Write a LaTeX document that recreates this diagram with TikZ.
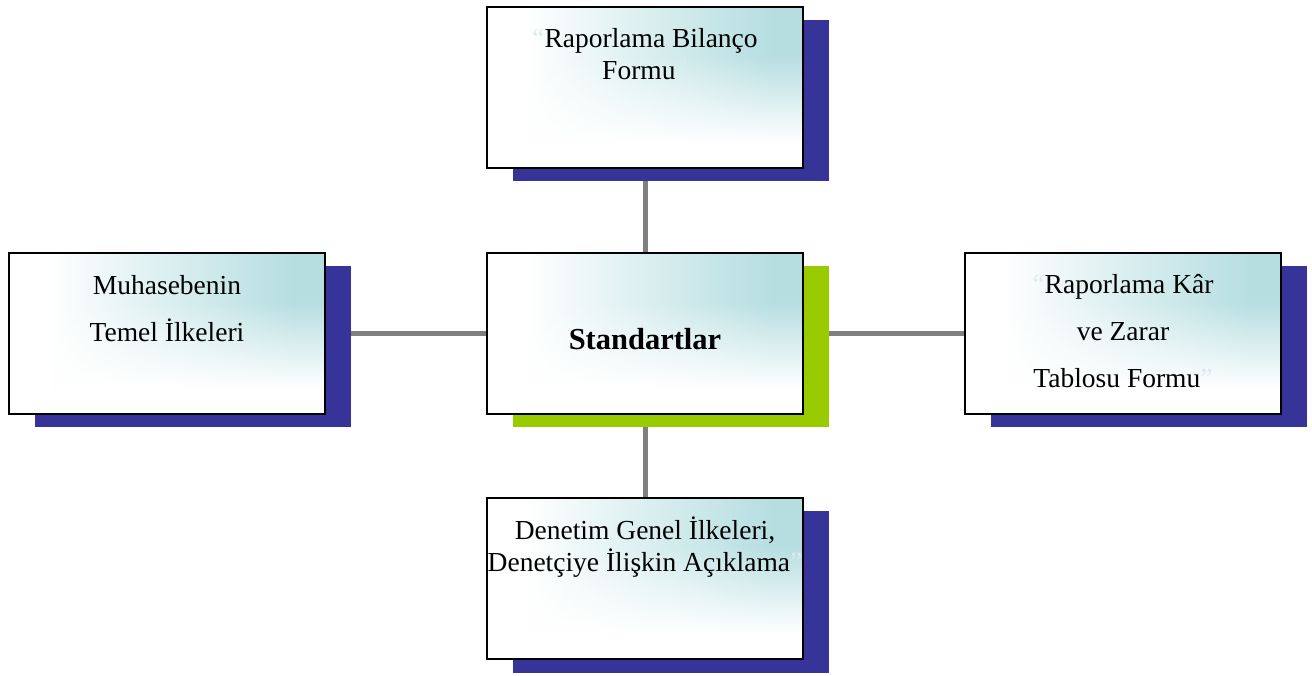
\documentclass[tikz,border=0pt]{standalone}
\usepackage{fontspec}
\setmainfont{Liberation Serif}
\usetikzlibrary{shadows,fadings,backgrounds}

\definecolor{boxcyan}{RGB}{182,222,225}
\definecolor{navyshadow}{RGB}{54,51,153}
\definecolor{limeshadow}{RGB}{153,204,0}
\definecolor{linkgray}{RGB}{128,128,128}
\definecolor{quotetint}{RGB}{222,234,236}

% white on the left, turning cyan towards the right
\pgfdeclarehorizontalshading{boxtint}{100bp}{color(0bp)=(white); color(31bp)=(white); color(70bp)=(boxcyan); color(100bp)=(boxcyan)}
% opaque at the bottom, clear towards the top
\pgfdeclareverticalshading{veilshade}{100bp}{color(0bp)=(pgftransparent!0); color(33bp)=(pgftransparent!0); color(60bp)=(pgftransparent!100); color(100bp)=(pgftransparent!100)}
\pgfdeclarefading{veil}{\pgfuseshading{veilshade}}

\tikzset{
  card/.style={draw=black, line width=2pt, shade, shading=boxtint,
    minimum width=316pt, minimum height=161pt, inner sep=0pt,
    path picture={\fill[white, path fading=veil]
      (path picture bounding box.south west) rectangle (path picture bounding box.north east);}},
  navycard/.style={card, general shadow={fill=navyshadow, shadow xshift=26pt, shadow yshift=-13.5pt}},
  limecard/.style={card, general shadow={fill=limeshadow, shadow xshift=26pt, shadow yshift=-13.5pt}},
  link/.style={draw=linkgray, line width=5pt},
  tighttext/.style={align=center, anchor=base, inner sep=0pt, font=\fontsize{27.5}{32}\selectfont},
  loosetext/.style={align=center, anchor=base, inner sep=0pt, font=\fontsize{27.5}{47}\selectfont},
}

\begin{document}
\begin{tikzpicture}[x=1pt, y=1pt]
  \useasboundingbox (0,0) rectangle (1312,675);

  % boxes
  \node[navycard] (balance) at (645,587.5) {};
  \node[limecard] (core)    at (645,341.5) {};
  \node[navycard] (basics)  at (167,341.5) {};
  \node[navycard] (income)  at (1123,341.5) {};
  \node[navycard] (audit)   at (645,96.5) {};

  % connectors behind the boxes
  \begin{pgfonlayer}{background}
    \draw[link] (core) -- (balance);
    \draw[link] (core) -- (basics);
    \draw[link] (core) -- (income);
    \draw[link] (core) -- (audit);
  \end{pgfonlayer}

  % labels (anchored on the baseline of their last line)
  \node[tighttext] (balancetext) at ([yshift=-74pt]balance.north)
    {\textcolor{quotetint}{“}Raporlama Bilanço\\Formu\textcolor{quotetint}{”}};
  \node[font=\fontsize{30.5}{36}\selectfont\bfseries, anchor=base, inner sep=0pt] (coretext)
    at ([yshift=-98pt]core.north) {Standartlar};
  \node[loosetext] (basicstext) at ([yshift=-90pt]basics.north)
    {Muhasebenin\\Temel İlkeleri};
  \node[loosetext] (incometext) at ([yshift=-136pt]income.north)
    {\textcolor{quotetint}{“}Raporlama Kâr\\ve Zarar\\Tablosu Formu\textcolor{quotetint}{”}};
  \node[tighttext] (audittext) at ([yshift=-75pt]audit.north)
    {Denetim Genel İlkeleri,\\Denetçiye İlişkin Açıklama\textcolor{quotetint}{”}};
\end{tikzpicture}
\end{document}
